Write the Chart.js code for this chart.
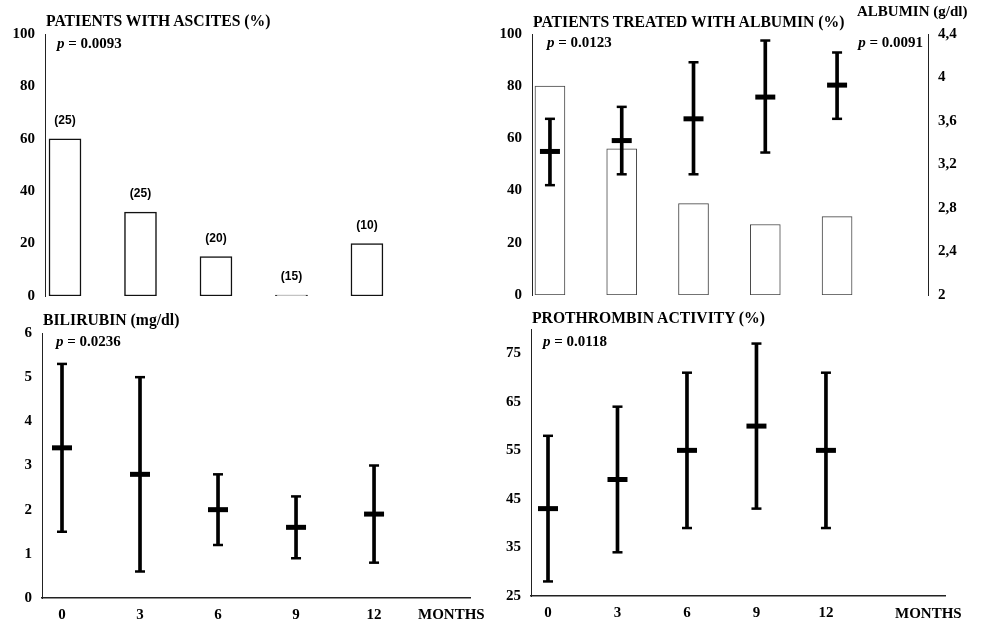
<!DOCTYPE html>
<html>
<head>
<meta charset="utf-8">
<title>Ascites, albumin, bilirubin and prothrombin over 12 months</title>
<script src="https://cdn.jsdelivr.net/npm/chart.js@4.4.1/dist/chart.umd.min.js"></script>
<style>
  body { margin: 0; background: #fff; }
  #page { position: relative; width: 981px; height: 619px; overflow: hidden; font-family: "Liberation Serif", "Times New Roman", serif; color: #000; }
  canvas { position: absolute; }
  .txt { position: absolute; font-size: 15px; line-height: 16px; font-weight: bold; white-space: nowrap; }
  .ttl { font-size: 15.7px; }
</style>
</head>
<body>
<div id="page">
  <canvas id="ascitesChart" width="490" height="310" style="left:0px;top:0px"></canvas>
  <canvas id="albuminChart" width="491" height="310" style="left:490px;top:0px"></canvas>
  <canvas id="bilirubinChart" width="490" height="319" style="left:0px;top:300px"></canvas>
  <canvas id="prothrombinChart" width="491" height="319" style="left:490px;top:300px"></canvas>

  <div class="txt ttl" style="left:46px;top:13px">PATIENTS WITH ASCITES (%)</div>
  <div class="txt" style="left:57px;top:35px"><i>p</i> = 0.0093</div>
  <div class="txt ttl" style="left:533px;top:14px">PATIENTS TREATED WITH ALBUMIN (%)</div>
  <div class="txt" style="left:857px;top:3px">ALBUMIN (g/dl)</div>
  <div class="txt" style="left:547px;top:34px"><i>p</i> = 0.0123</div>
  <div class="txt" style="right:58px;top:34px"><i>p</i> = 0.0091</div>
  <div class="txt ttl" style="left:43px;top:312px">BILIRUBIN (mg/dl)</div>
  <div class="txt" style="left:56px;top:333px"><i>p</i> = 0.0236</div>
  <div class="txt" style="left:418px;top:606px">MONTHS</div>
  <div class="txt ttl" style="left:532px;top:310px">PROTHROMBIN ACTIVITY (%)</div>
  <div class="txt" style="left:543px;top:333px"><i>p</i> = 0.0118</div>
  <div class="txt" style="left:895px;top:605px">MONTHS</div>
</div>
<script>
// data
const months = [0, 3, 6, 9, 12];

const ascitesPct = [60, 32, 15, 0, 20];
const ascitesN = ["(25)", "(25)", "(20)", "(15)", "(10)"];

const albuminPct = [80, 56, 35, 27, 30];
const albuminMean = [3.32, 3.42, 3.62, 3.82, 3.93];
const albuminLow = [3.01, 3.11, 3.11, 3.31, 3.62];
const albuminHigh = [3.62, 3.73, 4.14, 4.34, 4.23];

const bilirubinMean = [3.4, 2.8, 2.0, 1.6, 1.9];
const bilirubinLow = [1.5, 0.6, 1.2, 0.9, 0.8];
const bilirubinHigh = [5.3, 5.0, 2.8, 2.3, 3.0];

const prothMean = [43, 49, 55, 60, 55];
const prothLow = [28, 34, 39, 43, 39];
const prothHigh = [58, 64, 71, 77, 71];

const pctTicks = [0, 20, 40, 60, 80, 100];
const albuminTicks = [2, 2.4, 2.8, 3.2, 3.6, 4, 4.4];
const bilirubinTicks = [0, 1, 2, 3, 4, 5, 6];
const prothTicks = [25, 35, 45, 55, 65, 75];

const tickFont = { family: '"Liberation Serif", "Times New Roman", serif', size: 15, weight: "bold" };
const axisColor = "#222";

function fixTicks(list) {
    return function (scale) {
        scale.ticks = list.map((v) => ({ value: v }));
    };
}

function yAxis(min, max, list, width, position, fmt) {
    return {
        type: "linear",
        position: position,
        min: min,
        max: max,
        grid: { display: false, drawTicks: false },
        border: { display: true, color: axisColor, width: 1 },
        ticks: {
            font: tickFont,
            color: "#000",
            padding: 10,
            callback: fmt || ((v) => v)
        },
        afterBuildTicks: fixTicks(list),
        afterFit: (s) => {
            s.width = width;
            s.paddingTop = 0;
            s.paddingBottom = 0;
        }
    };
}

function xAxis(min, max, height, pad) {
    return {
        type: "linear",
        display: height > 0,
        offset: false,
        min: min,
        max: max,
        grid: { display: false, drawTicks: false },
        border: { display: true, color: axisColor, width: 1.5 },
        ticks: { font: tickFont, color: "#000", padding: pad || 5, autoSkip: false, maxRotation: 0 },
        afterBuildTicks: fixTicks(months),
        afterFit: (s) => {
            s.height = height;
            s.paddingLeft = 0;
            s.paddingRight = 0;
        }
    };
}

// whisker, caps and mean mark for each time point
function errorBars(mean, low, high, axis) {
    const pts = (arr) => months.map((m, i) => ({ x: m, y: arr[i] }));
    const mark = (arr, r, w) => ({
        type: "line",
        data: pts(arr),
        yAxisID: axis,
        showLine: false,
        pointStyle: "line",
        pointRadius: r,
        pointHoverRadius: r,
        pointBorderWidth: w,
        pointBorderColor: "#000"
    });
    return [
        mark(mean, 10, 5),
        mark(high, 5, 2.5),
        mark(low, 5, 2.5),
        {
            type: "bar",
            data: months.map((m, i) => ({ x: m, y: [low[i], high[i]] })),
            yAxisID: axis,
            backgroundColor: "#000",
            borderWidth: 0,
            barThickness: 3,
            grouped: false
        }
    ];
}

const commonPlugins = { legend: { display: false }, tooltip: { enabled: false } };

const countLabels = {
    id: "countLabels",
    afterDatasetsDraw(chart) {
        const ctx = chart.ctx;
        const meta = chart.getDatasetMeta(0);
        ctx.save();
        ctx.font = 'bold 12px "Liberation Sans", Arial, sans-serif';
        ctx.fillStyle = "#000";
        ctx.textAlign = "center";
        ctx.textBaseline = "middle";
        meta.data.forEach((bar, i) => {
            ctx.fillText(ascitesN[i], bar.x, bar.y - 18);
        });
        ctx.restore();
    }
};

new Chart(document.getElementById("ascitesChart"), {
    type: "bar",
    data: {
        datasets: [{
            data: months.map((m, i) => ({ x: m, y: ascitesPct[i] })),
            backgroundColor: "#fff",
            borderColor: "#111",
            borderWidth: 1.5,
            borderSkipped: false,
            barThickness: 32,
            minBarLength: 1
        }]
    },
    options: {
        responsive: false,
        animation: false,
        layout: { padding: { top: 34, bottom: 14, left: 0, right: 0 } },
        plugins: commonPlugins,
        scales: {
            x: xAxis(-0.795, 16.89, 0),
            y: yAxis(0, 100, pctTicks, 45, "left")
        }
    },
    plugins: [countLabels]
});

new Chart(document.getElementById("albuminChart"), {
    type: "bar",
    data: {
        datasets: errorBars(albuminMean, albuminLow, albuminHigh, "y2").concat([{
            type: "bar",
            data: months.map((m, i) => ({ x: m, y: albuminPct[i] })),
            yAxisID: "y",
            backgroundColor: "#fff",
            borderColor: "#444",
            borderWidth: 1,
            borderSkipped: false,
            barThickness: 30,
            grouped: false
        }])
    },
    options: {
        responsive: false,
        animation: false,
        layout: { padding: { top: 34, bottom: 12, left: 0, right: 0 } },
        plugins: commonPlugins,
        scales: {
            x: xAxis(-0.75, 15.8, 0),
            y: yAxis(0, 100, pctTicks, 42, "left"),
            y2: yAxis(2, 4.4, albuminTicks, 53, "right", (v) => String(Math.round(v * 10) / 10).replace(".", ","))
        }
    }
});

new Chart(document.getElementById("bilirubinChart"), {
    type: "bar",
    data: { datasets: errorBars(bilirubinMean, bilirubinLow, bilirubinHigh, "y") },
    options: {
        responsive: false,
        animation: false,
        layout: { padding: { top: 33, bottom: 0, left: 0, right: 20 } },
        plugins: commonPlugins,
        scales: {
            x: xAxis(-0.769, 15.69, 21, 8),
            y: yAxis(0, 6, bilirubinTicks, 42, "left")
        }
    }
});

new Chart(document.getElementById("prothrombinChart"), {
    type: "bar",
    data: { datasets: errorBars(prothMean, prothLow, prothHigh, "y") },
    options: {
        responsive: false,
        animation: false,
        layout: { padding: { top: 29, bottom: 0, left: 0, right: 36 } },
        plugins: commonPlugins,
        scales: {
            x: xAxis(-0.734, 17.14, 23, 8),
            y: yAxis(25, 80, prothTicks, 41, "left")
        }
    }
});
</script>
</body>
</html>
